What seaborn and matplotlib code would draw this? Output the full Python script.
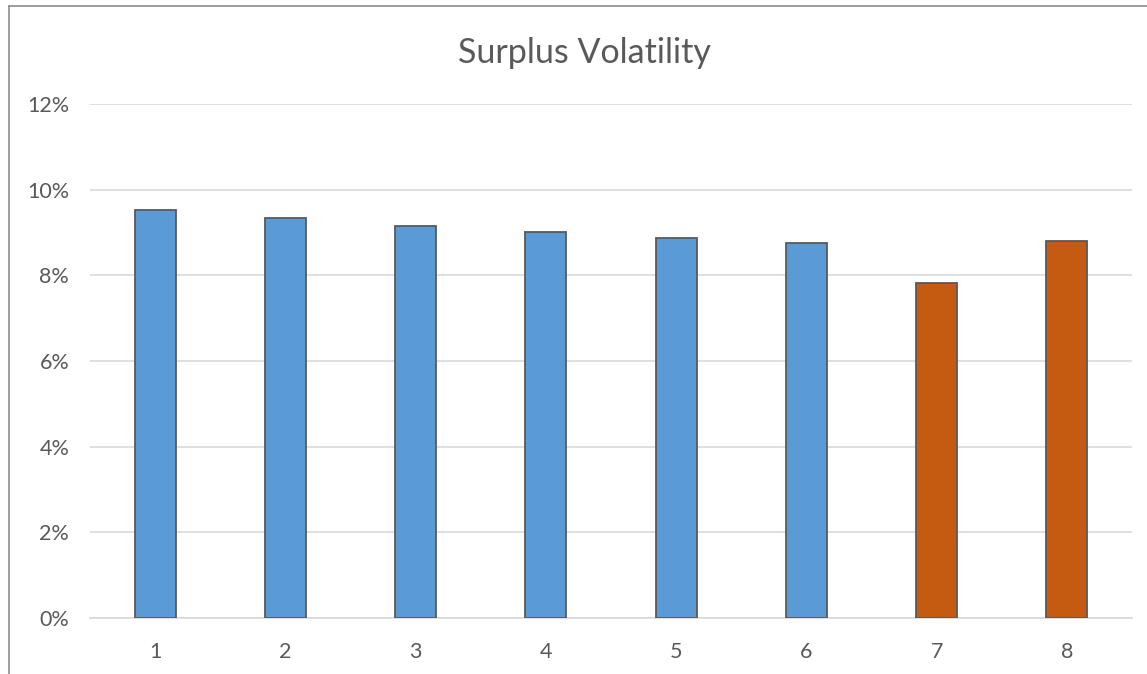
import matplotlib
matplotlib.use("Agg")
import matplotlib.pyplot as plt
import seaborn as sns
import pandas as pd
from matplotlib.ticker import PercentFormatter
from matplotlib.lines import Line2D

# Chart values
categories = ["1", "2", "3", "4", "5", "6", "7", "8"]
volatility = [9.53, 9.34, 9.16, 9.01, 8.87, 8.75, 7.82, 8.80]
groups = ["a", "a", "a", "a", "a", "a", "b", "b"]
y_ticks = [0, 2, 4, 6, 8, 10, 12]

data = pd.DataFrame({"Scenario": categories, "Volatility": volatility, "Group": groups})

sns.set_style("white")
plt.rcParams["font.family"] = ["Lato", "DejaVu Sans"]

fig = plt.figure(figsize=(11.47, 6.74), dpi=100)
ax = fig.add_axes([90 / 1147, 56 / 674, 1042 / 1147, 514 / 674])

palette = {"a": "#5B9BD5", "b": "#C55A11"}
sns.barplot(data=data, x="Scenario", y="Volatility", hue="Group", palette=palette,
            dodge=False, width=0.315, edgecolor="#595959", linewidth=1.3,
            saturation=1, legend=False, ax=ax, zorder=3)

ax.set_ylim(0, 12)
ax.set_yticks(y_ticks)
ax.yaxis.set_major_formatter(PercentFormatter(decimals=0))
ax.grid(axis="y", color="#D9D9D9", linewidth=1.2, zorder=0)
ax.set_xlabel("")
ax.set_ylabel("")
for s in ["top", "right", "left"]:
    ax.spines[s].set_visible(False)
ax.spines["bottom"].set_color("#D9D9D9")
ax.spines["bottom"].set_linewidth(1.2)
ax.tick_params(axis="both", length=0, labelsize=15.5, colors="#595959")
ax.tick_params(axis="y", pad=23 - 8)
ax.tick_params(axis="x", pad=17)

fig.text(584 / 1147, 1 - 53 / 674, "Surplus Volatility", ha="center", va="center",
         fontsize=24.5, color="#595959")

# chart area border (top and left only, rest cropped)
fig.add_artist(Line2D([9 / 1147, 9 / 1147], [0, 1 - 6 / 674], transform=fig.transFigure,
                      color="#8C8C8C", linewidth=1.2))
fig.add_artist(Line2D([9 / 1147, 1], [1 - 6 / 674, 1 - 6 / 674], transform=fig.transFigure,
                      color="#8C8C8C", linewidth=1.2))

fig.savefig("out.png", dpi=100)
